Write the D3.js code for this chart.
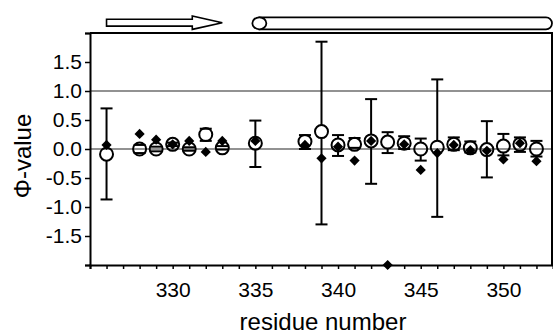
<!DOCTYPE html>
<html>
<head>
<meta charset="utf-8">
<script src="https://cdn.jsdelivr.net/npm/d3@7"></script>
<style>
  body { margin: 0; background: #fff; }
  svg { display: block; font-family: "Liberation Sans", Arial, sans-serif; }
</style>
</head>
<body>
<svg id="chart" width="553" height="335"></svg>
<script>
// residue numbers with phi-values (open circles, with error range) and second set (diamonds)
const residues = [326, 328, 329, 330, 331, 332, 333, 335, 338, 339, 340, 341, 342, 343, 344, 345, 346, 347, 348, 349, 350, 351, 352];
const phi      = [-0.09, 0.0, 0.0, 0.08, 0.0, 0.25, 0.02, 0.10, 0.13, 0.30, 0.07, 0.08, 0.14, 0.12, 0.10, 0.0, 0.03, 0.08, 0.02, -0.01, 0.05, 0.08, 0.0];
const phiHigh  = [0.70, 0.07, 0.04, 0.11, 0.03, 0.35, 0.05, 0.49, 0.24, 1.85, 0.24, 0.19, 0.86, 0.29, 0.22, 0.18, 1.20, 0.20, 0.13, 0.48, 0.26, 0.20, 0.14];
const phiLow   = [-0.87, -0.07, -0.04, 0.05, -0.03, 0.14, -0.01, -0.31, 0.0, -1.30, -0.12, 0.02, -0.60, -0.07, 0.0, -0.20, -1.17, -0.02, -0.06, -0.49, -0.11, -0.05, -0.13];
const phiAlt   = [0.07, 0.26, 0.16, 0.08, 0.14, -0.05, 0.14, 0.14, 0.07, -0.16, 0.04, -0.20, 0.14, -2.0, 0.08, -0.36, -0.07, 0.07, -0.02, -0.03, -0.18, 0.10, -0.21];

// secondary structure drawn above the plot
const strand = [326, 333];
const helix = [335, 353];

const yTicks = [-2, -1.5, -1, -0.5, 0, 0.5, 1, 1.5, 2];
const gridValues = [0, 1];

const svg = d3.select("#chart");
const plotLeft = 90, plotRight = 553, plotTop = 33, plotBottom = 265;

const x = d3.scaleLinear().domain([325, 353]).range([plotLeft, plotRight]);
const y = d3.scaleLinear().domain([-2, 2]).range([plotBottom, plotTop]);

const points = residues.map((r, i) => ({
    r, v: phi[i], hi: phiHigh[i], lo: phiLow[i], alt: phiAlt[i]
}));

// gridlines
svg.append("g")
    .selectAll("line")
    .data(gridValues)
    .join("line")
    .attr("x1", plotLeft).attr("x2", plotRight)
    .attr("y1", d => y(d)).attr("y2", d => y(d))
    .style("stroke", "#6e6e6e")
    .style("stroke-width", 1.5);

// frame (top + right)
svg.append("path")
    .attr("d", `M${plotLeft},${y(2)}H${plotRight - 1}V${plotBottom}`)
    .style("fill", "none")
    .style("stroke", "#000")
    .style("stroke-width", 2);

// y axis
const yAxis = svg.append("g")
    .attr("transform", `translate(${plotLeft},0)`)
    .call(d3.axisLeft(y)
        .tickValues(yTicks)
        .tickSize(5)
        .tickPadding(3)
        .tickFormat(d => Math.abs(d) < 2 ? d.toFixed(1) : ""));
yAxis.select(".domain").style("stroke-width", 2);
yAxis.selectAll(".tick line").style("stroke-width", 1.5);
yAxis.selectAll("text").style("font-size", "21px").style("fill", "#000");

// x axis
const xTicks = d3.range(325, 353);
const xAxis = svg.append("g")
    .attr("transform", `translate(0,${plotBottom})`)
    .call(d3.axisBottom(x)
        .tickValues(xTicks)
        .tickSize(4)
        .tickPadding(13)
        .tickFormat(d => d % 5 === 0 && d > 325 ? d : ""));
xAxis.select(".domain").style("stroke-width", 2);
xAxis.selectAll(".tick line").style("stroke-width", 1.5);
xAxis.selectAll("text").style("font-size", "21px").style("fill", "#000");

// axis titles
svg.append("text")
    .attr("x", 323).attr("y", 330)
    .attr("text-anchor", "middle")
    .style("font-size", "24px")
    .text("residue number");

svg.append("text")
    .attr("transform", "translate(31,156) rotate(-90)")
    .attr("text-anchor", "middle")
    .style("font-size", "24px")
    .text("Φ-value");

// error bars, stopping at the circle edge like the original
const R = 6.5, CAP = 6;
const eb = svg.append("g").style("stroke", "#000").style("stroke-width", 2);
points.forEach(d => {
    const cy = y(d.v), yh = y(d.hi), yl = y(d.lo), cx = x(d.r);
    if (yh < cy - R) eb.append("line").attr("x1", cx).attr("x2", cx).attr("y1", yh).attr("y2", cy - R);
    if (yl > cy + R) eb.append("line").attr("x1", cx).attr("x2", cx).attr("y1", cy + R).attr("y2", yl);
    eb.append("line").attr("x1", cx - CAP).attr("x2", cx + CAP).attr("y1", yh).attr("y2", yh);
    eb.append("line").attr("x1", cx - CAP).attr("x2", cx + CAP).attr("y1", yl).attr("y2", yl);
});

// open circles
svg.append("g")
    .selectAll("circle")
    .data(points)
    .join("circle")
    .attr("cx", d => x(d.r))
    .attr("cy", d => y(d.v))
    .attr("r", R)
    .style("fill", "none")
    .style("stroke", "#000")
    .style("stroke-width", 2);

// diamonds
const diamond = d3.symbol().type(d3.symbolSquare).size(52);
svg.append("g")
    .selectAll("path")
    .data(points)
    .join("path")
    .attr("d", diamond)
    .attr("transform", d => `translate(${x(d.r)},${y(d.alt)}) rotate(45)`)
    .style("fill", "#000");

// secondary structure: strand arrow and helix tube
const sy = 22.7, shaftH = 3.4, headH = 6.7, headL = 30;
const sx0 = x(strand[0]), sx1 = x(strand[1]);
svg.append("path")
    .attr("d", `M${sx0},${sy - shaftH}H${sx1 - headL}V${sy - headH}L${sx1},${sy}L${sx1 - headL},${sy + headH}V${sy + shaftH}H${sx0}Z`)
    .style("fill", "#fff")
    .style("stroke", "#000")
    .style("stroke-width", 1.6);

const hy = 23.3, hr = 6, hx0 = x(helix[0]) + 4, hx1 = x(helix[1]) - 1;
svg.append("path")
    .attr("d", `M${hx0},${hy - hr}H${hx1 - hr}A${hr},${hr} 0 0 1 ${hx1 - hr},${hy + hr}H${hx0}Z`)
    .style("fill", "#fff")
    .style("stroke", "#000")
    .style("stroke-width", 1.8);
svg.append("ellipse")
    .attr("cx", hx0).attr("cy", hy)
    .attr("rx", 7).attr("ry", hr)
    .style("fill", "#fff")
    .style("stroke", "#000")
    .style("stroke-width", 1.8);
</script>
</body>
</html>
